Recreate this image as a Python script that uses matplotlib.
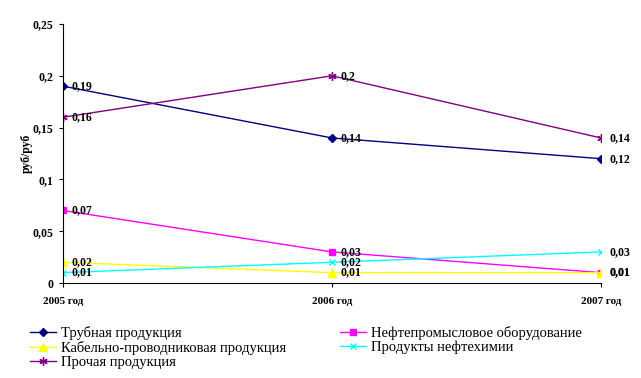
import matplotlib.pyplot as plt

years = ["2005 год", "2006 год", "2007 год"]
names = ["Трубная продукция", "Нефтепромысловое оборудование",
         "Кабельно-проводниковая продукция", "Продукты нефтехимии",
         "Прочая продукция"]
pipe = [0.19, 0.14, 0.12]
oilfield = [0.07, 0.03, 0.01]
cable = [0.02, 0.01, 0.01]
petrochem = [0.01, 0.02, 0.03]
other = [0.16, 0.2, 0.14]
yticks = [0, 0.05, 0.1, 0.15, 0.2, 0.25]

plt.rcParams['font.family'] = ['Liberation Serif', 'DejaVu Serif']

fig = plt.figure(figsize=(6.41, 3.78), dpi=100)
ax = fig.add_axes([63 / 641, 1 - 283 / 378, (601 - 63) / 641, (283 - 24) / 378])

series = [
    (pipe, "#000080", "D", 4),
    (oilfield, "#FF00FF", "s", 5),
    (cable, "#FFFF00", "^", 6),
    (petrochem, "#00FFFF", "x", 5),
    (other, "#800080", (6, 2, 0), 6),
]
x = range(len(years))
for (vals, col, mk, ms), name in zip(series, names):
    ax.plot(x, vals, color=col, lw=1, marker=mk, ms=ms, mew=1,
            mfc=col, mec=col, label=name)
    for xi, v in zip(x, vals):
        ax.annotate(f"{v:g}".replace(".", ","), (xi, v), xytext=(6, 0),
                    textcoords="offset points", va="center", ha="left",
                    fontsize=8.5, fontweight="bold")

ax.set_xlim(0, 2)
ax.set_ylim(0, 0.25)
ax.set_xticks(list(x))
ax.set_xticklabels(years, fontsize=8, fontweight="bold")
ax.set_yticks(yticks)
ax.set_yticklabels([f"{t:g}".replace(".", ",") for t in yticks],
                   fontsize=8.5, fontweight="bold")
ax.tick_params(axis="both", direction="out", length=3, width=0.8, pad=4)
ax.tick_params(axis="x", pad=7)
for s in ["top", "right"]:
    ax.spines[s].set_visible(False)
ax.set_ylabel("руб/руб", fontsize=8.5, fontweight="bold", labelpad=0)

handles, labels = ax.get_legend_handles_labels()
order = [0, 2, 4, 1, 3]
fig.legend([handles[i] for i in order], [labels[i] for i in order],
           ncol=2, loc="upper left", bbox_to_anchor=(30 / 641, 1 - 326 / 378),
           frameon=False, fontsize=10.5, handlelength=1.78, handletextpad=0.34,
           labelspacing=0.05, columnspacing=3.7, borderaxespad=0,
           borderpad=0)

fig.savefig("out.png", dpi=100)
